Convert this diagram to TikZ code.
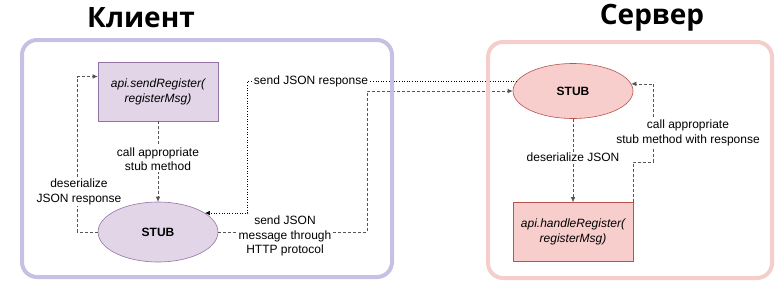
\documentclass[tikz,border=0pt]{standalone}
\usepackage{fontspec}
\setmainfont{Liberation Sans}
\newfontfamily\titlefont{Open Sans}
\usetikzlibrary{shapes.geometric,arrows.meta}
\definecolor{clientline}{HTML}{C8C0E4}
\definecolor{serverline}{HTML}{F5CDCB}
\definecolor{clientfill}{HTML}{E1D5E7}
\definecolor{clientdraw}{HTML}{9673A6}
\definecolor{serverfill}{HTML}{F8CECC}
\definecolor{serverdraw}{HTML}{B85450}
\definecolor{linkgray}{HTML}{555555}
\begin{document}
\begin{tikzpicture}[x=1pt,y=-1pt,line width=.6pt,
  lbl/.style={font=\fontsize{12}{14.5}\selectfont,align=center,fill=white,inner sep=1pt},
  callbox/.style={rectangle,minimum width=120pt,minimum height=59pt,inner sep=0pt,align=center,font=\fontsize{12}{15}\selectfont\itshape},
  stubnode/.style={ellipse,minimum width=120pt,inner sep=0pt,font=\fontsize{12}{14}\selectfont\bfseries},
  sidebox/.style={line width=4pt,rounded corners=15pt},
  heading/.style={font=\titlefont\fontsize{28}{30}\selectfont\bfseries},
  dashlink/.style={linkgray,dashed,dash pattern=on 3pt off 2pt,-{Latex[length=5pt,width=4.5pt]}},
  dotlink/.style={black,dotted,-{Latex[length=5pt,width=4.5pt]}}]
\useasboundingbox (0,0) rectangle (783,298);
\node[heading] (clienttitle) at (141,18) {Клиент};
\node[heading] (servertitle) at (652,18) {Сервер};
\node[callbox,fill=clientfill,draw=clientdraw] (sendreg) at (158,91.5) {api.sendRegister(\\registerMsg)};
\node[stubnode,minimum height=60pt,fill=clientfill,draw=clientdraw] (cstub) at (158,232) {STUB};
\node[stubnode,minimum height=55pt,fill=serverfill,draw=serverdraw] (sstub) at (573,91) {STUB};
\node[callbox,fill=serverfill,draw=serverdraw] (handlereg) at (573,232) {api.handleRegister(\\registerMsg)};
\draw[dashlink] (sendreg.south) -- (cstub.north);
\draw[dashlink] (cstub.west) -- ++(-20,0) |- ([yshift=15pt]sendreg.west);
\draw[dashlink] (cstub.east) -- ++(149,0) |- (sstub.west);
\draw[dotlink] (sstub.170) -- ++(-269,0) |- (cstub.22);
\draw[dashlink] (sstub.south) -- (handlereg.north);
\draw[dashlink] (handlereg.north east) -- ++(0,-40) -- ++(20,0) |- (sstub.7);
\node[lbl] (callstub) at (158,159) {call appropriate\\stub method};
\node[lbl] (desresp) at (79,192) {deserialize\\JSON response};
\node[lbl] (sendmsg) at (285,236) {send JSON\\message through\\HTTP protocol};
\node[lbl] (sendresp) at (311,81) {send JSON response};
\node[lbl] (desjson) at (573,157) {deserialize JSON};
\node[lbl] (callresp) at (688,133) {call appropriate\\stub method with response};
\draw[sidebox,clientline] (22,40) rectangle (392,277);
\draw[sidebox,serverline] (488,42) rectangle (772,278);
\end{tikzpicture}
\end{document}
